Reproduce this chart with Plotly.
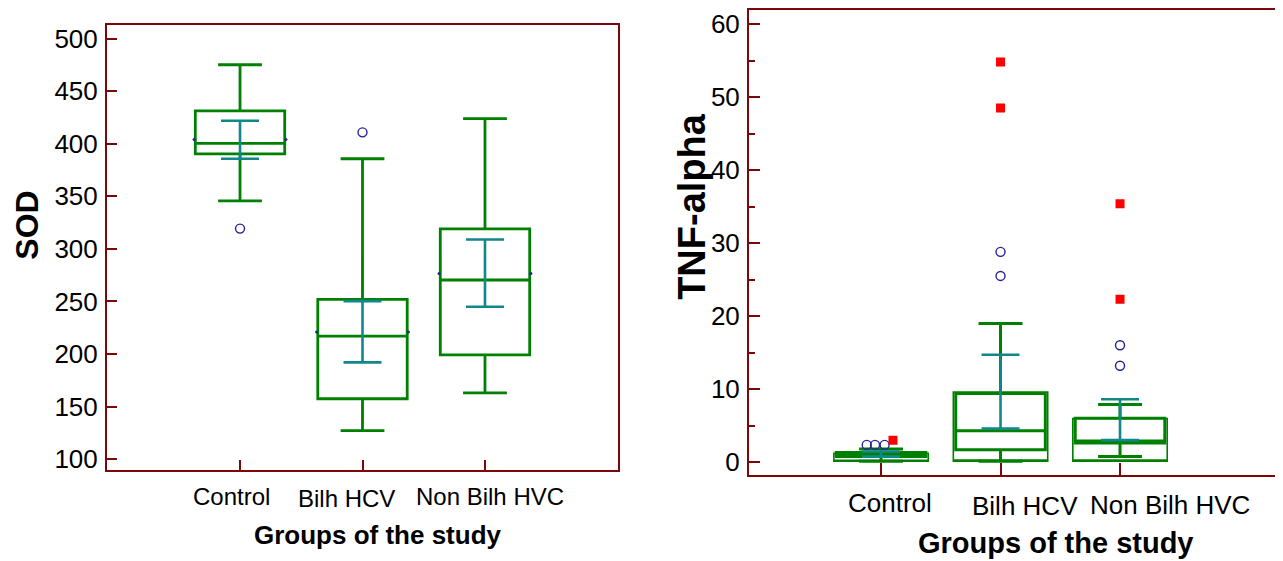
import plotly.graph_objects as go

# ---------------- data ----------------
groups = ["Control", "Bilh HCV", "Non Bilh HVC"]

# SOD (left panel)
sod_q1 = [390.5, 157.4, 199.1]
sod_median = [400.5, 217.0, 270.4]
sod_q3 = [431.3, 251.9, 319.0]
sod_low = [345.6, 127.0, 163.0]
sod_high = [475.2, 385.8, 424.0]
sod_mean = [404.0, 221.0, 276.6]
sod_ci_low = [385.8, 192.0, 245.0]
sod_ci_high = [421.9, 250.3, 309.0]
sod_out_group = [0, 1]
sod_out_value = [319.3, 410.9]

# TNF-alpha (right panel)
tnf_q1 = [0.77, 1.7, 2.6]
tnf_median = [1.0, 4.3, 2.9]
tnf_q3 = [1.3, 9.4, 6.0]
tnf_low = [0.1, 0.1, 0.77]
tnf_high = [1.8, 19.0, 7.9]
tnf_range_low = [0.1, 0.13, 0.13]
tnf_range_high = [1.2, 9.6, 5.96]
tnf_ci_low = [0.75, 4.6, 3.0]
tnf_ci_high = [1.45, 14.7, 8.6]
tnf_out_group = [0, 0, 0, 1, 1, 2, 2]
tnf_out_jitter = [-0.12, -0.05, 0.03, 0.0, 0.0, 0.0, 0.0]
tnf_out_value = [2.35, 2.35, 2.35, 28.8, 25.5, 16.0, 13.2]
tnf_far_group = [0, 1, 1, 2, 2]
tnf_far_jitter = [0.1, 0.0, 0.0, 0.0, 0.0]
tnf_far_value = [3.0, 54.8, 48.5, 35.4, 22.3]

# ---------------- styles ----------------
GREEN = "#008000"
TEAL = "#10878b"
NAVY = "#2323a0"
AXC = "#7a0808"
FONT = "Liberation Sans, Arial, sans-serif"
W, H, OFF = 1275, 553, 8   # page body margin offsets the figure by 8 px
idx = list(range(len(groups)))


def px(xp):
    return (xp - OFF) / W


def py(yp):
    return 1 - (yp - OFF) / H


fig = go.Figure()

# ---- left panel ----
fig.add_trace(go.Box(
    x=idx, q1=sod_q1, median=sod_median, q3=sod_q3,
    lowerfence=sod_low, upperfence=sod_high,
    width=0.73, whiskerwidth=0.49, boxpoints=False,
    fillcolor="rgba(0,0,0,0)", line=dict(color=GREEN, width=2.8),
    xaxis="x", yaxis="y", showlegend=False, hoverinfo="skip"))
fig.add_trace(go.Scatter(
    x=idx, y=[(a + b) / 2 for a, b in zip(sod_ci_low, sod_ci_high)],
    mode="markers", marker=dict(size=1, color="rgba(0,0,0,0)"),
    error_y=dict(type="data", symmetric=False,
                 array=[(b - a) / 2 for a, b in zip(sod_ci_low, sod_ci_high)],
                 arrayminus=[(b - a) / 2 for a, b in zip(sod_ci_low, sod_ci_high)],
                 color=TEAL, thickness=2.6, width=19),
    xaxis="x", yaxis="y", showlegend=False, hoverinfo="skip"))
fig.add_trace(go.Scatter(
    x=[i + s for i in idx for s in (-0.375, 0.375)],
    y=[m for m in sod_mean for _ in (0, 1)],
    mode="markers", marker=dict(size=3, color=NAVY),
    xaxis="x", yaxis="y", showlegend=False, hoverinfo="skip"))
fig.add_trace(go.Scatter(
    x=sod_out_group, y=sod_out_value, mode="markers",
    marker=dict(symbol="circle-open", size=9, color=NAVY, line=dict(width=1.4)),
    xaxis="x", yaxis="y", showlegend=False, hoverinfo="skip"))

# ---- right panel ----
fig.add_trace(go.Box(
    x=idx, q1=tnf_range_low, median=tnf_range_low, q3=tnf_range_high,
    lowerfence=tnf_range_low, upperfence=tnf_range_high,
    width=0.79, whiskerwidth=0, boxpoints=False,
    fillcolor="rgba(0,0,0,0)", line=dict(color=GREEN, width=1.6),
    xaxis="x2", yaxis="y2", showlegend=False, hoverinfo="skip"))
fig.add_trace(go.Box(
    x=idx, q1=tnf_q1, median=tnf_median, q3=tnf_q3,
    lowerfence=tnf_low, upperfence=tnf_high,
    width=0.75, whiskerwidth=0.49, boxpoints=False,
    fillcolor="rgba(0,0,0,0)", line=dict(color=GREEN, width=3),
    xaxis="x2", yaxis="y2", showlegend=False, hoverinfo="skip"))
fig.add_trace(go.Scatter(
    x=idx, y=[(a + b) / 2 for a, b in zip(tnf_ci_low, tnf_ci_high)],
    mode="markers", marker=dict(size=1, color="rgba(0,0,0,0)"),
    error_y=dict(type="data", symmetric=False,
                 array=[(b - a) / 2 for a, b in zip(tnf_ci_low, tnf_ci_high)],
                 arrayminus=[(b - a) / 2 for a, b in zip(tnf_ci_low, tnf_ci_high)],
                 color=TEAL, thickness=2.6, width=19),
    xaxis="x2", yaxis="y2", showlegend=False, hoverinfo="skip"))
fig.add_trace(go.Scatter(
    x=[g + j for g, j in zip(tnf_out_group, tnf_out_jitter)], y=tnf_out_value,
    mode="markers",
    marker=dict(symbol="circle-open", size=9, color=NAVY, line=dict(width=1.4)),
    xaxis="x2", yaxis="y2", showlegend=False, hoverinfo="skip"))
fig.add_trace(go.Scatter(
    x=[g + j for g, j in zip(tnf_far_group, tnf_far_jitter)], y=tnf_far_value,
    mode="markers", marker=dict(symbol="square", size=9, color="#ff0000"),
    xaxis="x2", yaxis="y2", showlegend=False, hoverinfo="skip"))

axis_common = dict(showline=True, linecolor=AXC, linewidth=2, ticks="inside",
                   tickcolor=AXC, tickwidth=2, showgrid=False, zeroline=False)

fig.update_layout(
    width=W, height=H, margin=dict(l=0, r=0, t=0, b=0),
    paper_bgcolor="white", plot_bgcolor="white", boxmode="overlay",
    xaxis=dict(domain=[px(107), px(618)], range=[-1.086, 3.086], mirror=True,
               tickvals=idx, showticklabels=False, ticklen=10, **axis_common),
    yaxis=dict(domain=[py(473), py(23)], range=[89.65, 513.2], mirror=True,
               tickvals=[100, 150, 200, 250, 300, 350, 400, 450, 500], ticklen=10,
               ticklabelstandoff=2, tickfont=dict(family=FONT, color="black", size=26),
               **axis_common),
    xaxis2=dict(domain=[px(749), 1.0], range=[-1.105, 3.364], mirror=True,
                anchor="y2", tickvals=idx, showticklabels=False, ticklen=12, **axis_common),
    yaxis2=dict(domain=[py(477.7), py(8.3)], range=[-1.72, 61.9], anchor="x2",
                tickvals=[0, 10, 20, 30, 40, 50, 60], ticklen=11, ticklabelstandoff=2,
                tickfont=dict(family=FONT, color="black", size=26),
                minor=dict(dtick=5, ticks="inside", ticklen=6, tickcolor=AXC, tickwidth=1.5),
                **axis_common),
)

# category labels (placed per panel with the reference's offsets)
left_shift = [-9, -16, 5]
left_y = [500, 502, 500]
right_shift = [9, 24, 50]
right_y = [506, 509, 508]
for i, g in enumerate(groups):
    fig.add_annotation(x=i, xref="x", y=py(left_y[i]), yref="paper",
                       xanchor="center", yanchor="middle",
                       text=g, showarrow=False, xshift=left_shift[i],
                       font=dict(family=FONT, size=24, color="black"))
    fig.add_annotation(x=i, xref="x2", y=py(right_y[i]), yref="paper",
                       xanchor="center", yanchor="middle",
                       text=g, showarrow=False, xshift=right_shift[i],
                       font=dict(family=FONT, size=26, color="black"))

# axis titles
titles = [("<b>Groups of the study</b>", 378, 539, 0, 26),
          ("<b>Groups of the study</b>", 1056, 547, 0, 29),
          ("<b>SOD</b>", 27, 226, -90, 32),
          ("<b>TNF-alpha</b>", 692, 207, -90, 38)]
for text, xp, yp, ang, size in titles:
    fig.add_annotation(x=px(xp), y=py(yp), xref="paper", yref="paper",
                       xanchor="center", yanchor="middle", textangle=ang,
                       text=text, showarrow=False,
                       font=dict(family=FONT, size=size, color="black"))

fig.write_html("out.html")
